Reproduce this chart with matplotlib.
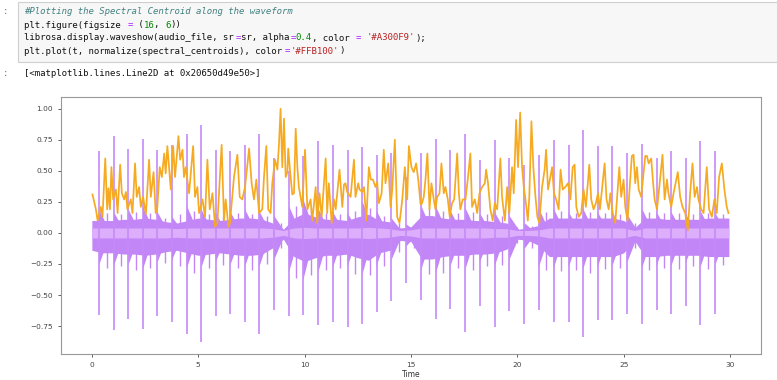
import numpy as np
import matplotlib
matplotlib.use("Agg")
import matplotlib.pyplot as plt
from matplotlib.patches import Rectangle

# ---------------- data ----------------
# percussive spikes of the waveform (time s, positive peak, negative peak, body tail up, body tail down)
spike_t = [0.34, 1.03, 1.72, 2.41, 3.08, 3.77, 4.46, 5.15, 5.82, 6.51, 7.20, 7.86, 8.56, 9.26,
           9.94, 10.64, 11.33, 12.02, 12.71, 13.38, 14.08, 14.78, 15.48, 16.18, 16.85, 17.56,
           18.23, 18.93, 19.62, 20.33, 21.00, 21.70, 22.41, 23.08, 23.77, 24.46, 25.16, 25.85,
           26.54, 27.23, 27.92, 28.60, 29.30]
spike_top = [0.66, 0.78, 0.68, 0.76, 0.67, 0.71, 0.80, 0.87, 0.67, 0.66, 0.71, 0.80, 0.60, 0.50,
             0.62, 0.74, 0.71, 0.67, 0.69, 0.63, 0.64, 0.45, 0.64, 0.76, 0.67, 0.80, 0.59, 0.75,
             0.60, 0.55, 0.63, 0.75, 0.71, 0.83, 0.70, 0.70, 0.64, 0.72, 0.60, 0.66, 0.60, 0.74,
             0.66]
spike_bot = [-0.66, -0.78, -0.69, -0.77, -0.67, -0.72, -0.81, -0.88, -0.67, -0.65, -0.72, -0.81,
             -0.62, -0.67, -0.66, -0.74, -0.72, -0.76, -0.73, -0.64, -0.55, -0.40, -0.54, -0.69,
             -0.61, -0.80, -0.59, -0.76, -0.63, -0.73, -0.62, -0.72, -0.72, -0.84, -0.70, -0.70,
             -0.65, -0.73, -0.62, -0.65, -0.59, -0.74, -0.65]
tail_up = [0.19, 0.17, 0.19, 0.21, 0.17, 0.13, 0.22, 0.19, 0.16, 0.17, 0.19, 0.18, 0.14, 0.22,
           0.27, 0.20, 0.17, 0.16, 0.26, 0.18, 0.12, 0.07, 0.22, 0.21, 0.18, 0.20, 0.16, 0.17,
           0.14, 0.08, 0.20, 0.20, 0.17, 0.20, 0.17, 0.17, 0.15, 0.20, 0.17, 0.17, 0.15, 0.18,
           0.16]
tail_dn = [-0.26, -0.27, -0.26, -0.29, -0.24, -0.22, -0.29, -0.28, -0.24, -0.26, -0.27, -0.28,
           -0.22, -0.32, -0.38, -0.32, -0.28, -0.27, -0.34, -0.27, -0.22, -0.11, -0.30, -0.32,
           -0.27, -0.29, -0.24, -0.27, -0.22, -0.13, -0.28, -0.29, -0.28, -0.30, -0.28, -0.27,
           -0.24, -0.29, -0.27, -0.27, -0.24, -0.28, -0.26]

# secondary (off-beat) streaks between the main hits
minor_t = [0.69, 1.38, 2.07, 2.75, 3.43, 4.12, 4.81, 5.49, 6.17, 6.86, 7.53, 8.21, 8.91, 9.60,
           10.29, 10.99, 11.68, 12.37, 13.05, 13.73, 14.43, 15.13, 15.83, 16.52, 17.21, 17.90,
           18.58, 19.28, 19.98, 20.67, 21.35, 22.06, 22.75, 23.43, 24.12, 24.81, 25.51, 26.20,
           26.89, 27.58, 28.26, 28.95, 29.65]
minor_up = [0.16, 0.15, 0.17, 0.16, 0.12, 0.15, 0.18, 0.15, 0.14, 0.16, 0.15, 0.14, 0.08, 0.22,
            0.20, 0.16, 0.15, 0.18, 0.20, 0.14, 0.08, 0.06, 0.20, 0.18, 0.16, 0.17, 0.15, 0.14,
            0.05, 0.06, 0.17, 0.18, 0.16, 0.17, 0.16, 0.15, 0.08, 0.17, 0.16, 0.16, 0.15, 0.16,
            0.15]
minor_dn = [-0.28, -0.27, -0.30, -0.28, -0.24, -0.27, -0.32, -0.28, -0.26, -0.28, -0.30, -0.25,
            -0.12, -0.36, -0.34, -0.30, -0.28, -0.33, -0.34, -0.27, -0.15, -0.12, -0.33, -0.32,
            -0.28, -0.30, -0.27, -0.26, -0.08, -0.12, -0.30, -0.31, -0.30, -0.32, -0.29, -0.28,
            -0.12, -0.30, -0.28, -0.29, -0.27, -0.29, -0.26]

# waveform body envelope sampled every 0.5 s
env_t = [0.0, 0.5, 1.0, 1.5, 2.0, 2.5, 3.0, 3.5, 4.0, 4.5, 5.0, 5.5, 6.0, 6.5, 7.0, 7.5, 8.0,
         8.5, 9.0, 9.5, 10.0, 10.5, 11.0, 11.5, 12.0, 12.5, 13.0, 13.5, 14.0, 14.5, 15.0, 15.5,
         16.0, 16.5, 17.0, 17.5, 18.0, 18.5, 19.0, 19.5, 20.0, 20.5, 21.0, 21.5, 22.0, 22.5,
         23.0, 23.5, 24.0, 24.5, 25.0, 25.5, 26.0, 26.5, 27.0, 27.5, 28.0, 28.5, 29.0, 29.5, 29.94]
env_up = [0.10, 0.10, 0.10, 0.11, 0.11, 0.12, 0.11, 0.09, 0.08, 0.10, 0.12, 0.11, 0.10, 0.11,
          0.12, 0.12, 0.11, 0.08, 0.03, 0.12, 0.16, 0.13, 0.11, 0.11, 0.10, 0.13, 0.15, 0.10,
          0.09, 0.04, 0.05, 0.14, 0.14, 0.12, 0.11, 0.11, 0.10, 0.10, 0.09, 0.08, 0.03, 0.04,
          0.06, 0.12, 0.12, 0.12, 0.12, 0.12, 0.12, 0.12, 0.10, 0.04, 0.12, 0.12, 0.11, 0.11,
          0.11, 0.11, 0.12, 0.12, 0.12]
env_dn = [-0.14, -0.16, -0.16, -0.17, -0.17, -0.18, -0.17, -0.15, -0.14, -0.16, -0.18, -0.17,
          -0.16, -0.17, -0.18, -0.18, -0.17, -0.12, -0.05, -0.19, -0.23, -0.20, -0.18, -0.18,
          -0.17, -0.20, -0.22, -0.16, -0.14, -0.06, -0.07, -0.21, -0.21, -0.19, -0.18, -0.18,
          -0.17, -0.17, -0.16, -0.13, -0.05, -0.06, -0.10, -0.19, -0.19, -0.19, -0.19, -0.19,
          -0.19, -0.19, -0.16, -0.06, -0.19, -0.19, -0.18, -0.18, -0.18, -0.18, -0.19, -0.19,
          -0.19]
env_core = [0.04, 0.04, 0.04, 0.04, 0.04, 0.04, 0.04, 0.04, 0.035, 0.04, 0.04, 0.04, 0.04, 0.04,
            0.04, 0.04, 0.04, 0.035, 0.02, 0.04, 0.045, 0.04, 0.04, 0.04, 0.04, 0.04, 0.045, 0.04,
            0.035, 0.02, 0.025, 0.04, 0.04, 0.04, 0.04, 0.04, 0.04, 0.04, 0.035, 0.035, 0.02, 0.02,
            0.025, 0.04, 0.04, 0.04, 0.04, 0.04, 0.04, 0.04, 0.04, 0.02, 0.04, 0.04, 0.04, 0.04,
            0.04, 0.04, 0.04, 0.04, 0.04]

# normalized spectral centroid (time s, value)
cent_t = [0.03, 0.19, 0.27, 0.42, 0.50, 0.63, 0.72, 0.78, 0.85, 0.92, 1.00, 1.13, 1.21, 1.33,
          1.41, 1.52, 1.60, 1.67, 1.83, 1.91, 2.03, 2.11, 2.22, 2.30, 2.41, 2.54, 2.69, 2.77,
          2.90, 3.00, 3.08, 3.19, 3.29, 3.40, 3.47, 3.55, 3.63, 3.71, 3.82, 3.91, 4.07, 4.15,
          4.26, 4.33, 4.41, 4.57, 4.76, 4.85, 4.96, 5.04, 5.20, 5.32, 5.43, 5.54, 5.67, 5.79,
          5.90, 6.10, 6.21, 6.29, 6.42, 6.49, 6.68, 6.84, 6.95, 7.07, 7.20,
          7.39, 7.51, 7.62, 7.73, 7.86, 8.01, 8.09, 8.20, 8.29, 8.40, 8.48, 8.61, 8.72, 8.79,
          8.87, 8.95, 9.03, 9.11, 9.19, 9.23, 9.31, 9.42, 9.50, 9.58, 9.66, 9.73, 9.81, 9.89,
          10.02, 10.13, 10.28, 10.36, 10.52, 10.59, 10.70, 10.80, 10.99, 11.06, 11.14, 11.27,
          11.38, 11.46, 11.64, 11.77, 11.85, 11.92, 12.00, 12.16, 12.32, 12.39, 12.52, 12.58,
          12.71, 12.79, 12.90, 13.02, 13.11, 13.21, 13.33, 13.41, 13.49, 13.62, 13.72, 13.80,
          13.93, 14.04, 14.12, 14.24, 14.35, 14.46, 14.59, 14.71, 14.82,
          14.90, 15.02, 15.13, 15.24, 15.34, 15.45, 15.52, 15.60, 15.68, 15.77, 15.87, 15.96,
          16.07, 16.15, 16.23, 16.34, 16.43, 16.54, 16.62, 16.73, 16.82, 16.93, 17.03, 17.17,
          17.25, 17.32, 17.43, 17.56, 17.68, 17.79, 17.87, 18.00, 18.11, 18.22, 18.34, 18.47,
          18.53, 18.62, 18.73, 18.84, 18.94, 19.05, 19.20, 19.28, 19.41, 19.52, 19.62, 19.75,
          19.83, 19.94, 20.03, 20.13, 20.22, 20.30, 20.38, 20.49, 20.56, 20.66, 20.75, 20.85,
          20.94, 21.03, 21.16, 21.28, 21.35, 21.44, 21.55, 21.63, 21.72, 21.82, 21.94, 22.03,
          22.13,
          22.25, 22.38, 22.49, 22.60, 22.69, 22.77, 22.88, 23.00, 23.11, 23.22, 23.38, 23.47,
          23.58, 23.69, 23.79, 23.88, 24.10, 24.19, 24.29, 24.37, 24.48, 24.60, 24.79, 24.88,
          24.99, 25.07, 25.18, 25.31, 25.38, 25.46, 25.54, 25.62, 25.70, 25.82, 25.93, 26.01,
          26.09, 26.17, 26.29, 26.38, 26.45, 26.56, 26.67, 26.82, 26.92, 27.03, 27.10, 27.23,
          27.34, 27.54, 27.65, 27.76, 27.89, 28.01, 28.12, 28.23, 28.33, 28.44, 28.51, 28.64,
          28.75, 28.90, 29.01, 29.14, 29.26, 29.37, 29.48, 29.61, 29.73, 29.84, 29.92]
cent_v = [0.31, 0.19, 0.10, 0.21, 0.13, 0.60, 0.19, 0.36, 0.19, 0.53, 0.27, 0.35, 0.16, 0.55,
          0.32, 0.27, 0.33, 0.19, 0.27, 0.16, 0.56, 0.29, 0.37, 0.21, 0.29, 0.15, 0.59, 0.29,
          0.49, 0.16, 0.21, 0.53, 0.45, 0.64, 0.48, 0.70, 0.53, 0.35, 0.70, 0.45, 0.78, 0.59,
          0.67, 0.45, 0.53, 0.32, 0.70, 0.29, 0.37, 0.16, 0.27, 0.13, 0.59, 0.19, 0.32, 0.05,
          0.08, 0.71, 0.10, 0.27, 0.05, 0.08, 0.45, 0.63, 0.29, 0.27, 0.37,
          0.68, 0.40, 0.27, 0.43, 0.16, 0.19, 0.45, 0.70, 0.19, 0.16, 0.40, 0.59, 0.51, 0.70,
          1.00, 0.53, 0.92, 0.45, 0.49, 0.68, 0.51, 0.31, 0.32, 0.84, 0.53, 0.37, 0.29, 0.21,
          0.67, 0.19, 0.27, 0.10, 0.37, 0.08, 0.32, 0.13, 0.60, 0.16, 0.40, 0.08,
          0.27, 0.19, 0.51, 0.21, 0.39, 0.40, 0.33, 0.29, 0.59, 0.29, 0.40, 0.35,
          0.33, 0.37, 0.10, 0.53, 0.43, 0.43, 0.37, 0.41, 0.24, 0.32, 0.67, 0.40,
          0.56, 0.21, 0.35, 0.75, 0.13, 0.08, 0.27, 0.53, 0.27,
          0.70, 0.53, 0.49, 0.56, 0.43, 0.23, 0.24, 0.29, 0.43, 0.64, 0.19, 0.40,
          0.27, 0.19, 0.29, 0.32, 0.56, 0.32, 0.37, 0.27, 0.13, 0.24, 0.27, 0.64,
          0.32, 0.19, 0.27, 0.27, 0.45, 0.64, 0.21, 0.27, 0.16, 0.32, 0.37, 0.40,
          0.51, 0.40, 0.19, 0.10, 0.24, 0.19, 0.60, 0.29, 0.10, 0.37, 0.16, 0.53,
          0.32, 0.91, 0.53, 0.97, 0.53, 0.37, 0.27, 0.10, 0.29, 0.90, 0.53, 0.29,
          0.13, 0.08, 0.37, 0.51, 0.67, 0.35, 0.45, 0.53, 0.32, 0.27, 0.19, 0.51,
          0.35,
          0.37, 0.40, 0.27, 0.53, 0.55, 0.21, 0.13, 0.16, 0.35, 0.21, 0.55, 0.27,
          0.19, 0.24, 0.32, 0.19, 0.56, 0.27, 0.19, 0.32, 0.16, 0.08, 0.53, 0.29,
          0.43, 0.21, 0.10, 0.45, 0.62, 0.63, 0.40, 0.53, 0.35, 0.29, 0.48, 0.62,
          0.62, 0.56, 0.60, 0.40, 0.27, 0.19, 0.37, 0.63, 0.27, 0.43, 0.32, 0.21,
          0.32, 0.49, 0.29, 0.21, 0.16, 0.02, 0.32, 0.56, 0.29, 0.37, 0.27, 0.19,
          0.16, 0.53, 0.19, 0.13, 0.27, 0.16, 0.45, 0.56, 0.35, 0.21, 0.16]

x_ticks = [0, 5, 10, 15, 20, 25, 30]
y_ticks = [-0.75, -0.50, -0.25, 0.00, 0.25, 0.50, 0.75, 1.00]

code_lines = [
    [("#Plotting the Spectral Centroid along the waveform", "#408080", "italic")],
    [("plt.figure(figsize ", "#111111", "normal"), ("=", "#AA22FF", "normal"), (" (", "#111111", "normal"),
     ("16", "#008800", "normal"), (", ", "#111111", "normal"), ("6", "#008800", "normal"),
     ("))", "#111111", "normal")],
    [("librosa.display.waveshow(audio_file, sr", "#111111", "normal"), ("=", "#AA22FF", "normal"),
     ("sr, alpha", "#111111", "normal"), ("=", "#AA22FF", "normal"), ("0.4", "#008800", "normal"),
     (", color ", "#111111", "normal"), ("=", "#AA22FF", "normal"), (" ", "#111111", "normal"),
     ("'#A300F9'", "#BA2121", "normal"), (");", "#111111", "normal")],
    [("plt.plot(t, normalize(spectral_centroids), color", "#111111", "normal"),
     ("=", "#AA22FF", "normal"), ("'#FFB100'", "#BA2121", "normal"), (")", "#111111", "normal")],
]
out_text = "[<matplotlib.lines.Line2D at 0x20650d49e50>]"

# ---------------- figure ----------------
W, H = 777, 380
fig = plt.figure(figsize=(W / 100, H / 100), dpi=100)
fig.patch.set_facecolor("white")

def fx(px):
    return px / W

def fy(py):
    return 1 - py / H

# code cell background
fig.patches.append(Rectangle((fx(18), fy(62)), fx(777 - 18) + 0.01, (62 - 2) / H,
                             transform=fig.transFigure, facecolor="#F7F7F7",
                             edgecolor="#CFCFCF", linewidth=0.8, zorder=0))

mono = "DejaVu Sans Mono"
fs_code = 6.5
char_w = fs_code * 100 / 72 * 0.602
line_y = [12, 25, 38, 51]
for ly, segs in zip(line_y, code_lines):
    x = 24.0
    for txt, col, sty in segs:
        fig.text(fx(x), fy(ly), txt, color=col, fontstyle=sty, family=mono,
                 fontsize=fs_code, va="center", ha="left")
        x += len(txt) * char_w
fig.text(fx(3), fy(12), ":", color="#777777", family=mono, fontsize=fs_code, va="center")
fig.text(fx(3), fy(74), ":", color="#777777", family=mono, fontsize=fs_code, va="center")
fig.text(fx(24), fy(74), out_text, color="#111111", family=mono, fontsize=fs_code,
         va="center", ha="left")

# plot axes
ax = fig.add_axes([fx(61), fy(354), fx(761) - fx(61), fy(97) - fy(354)])

outer_col = "#C386F7"
core_col = "#DCAEFB"
spike_col = "#C58AF8"

ax.fill_between(env_t, env_dn, env_up, color=outer_col, linewidth=0, zorder=1)
for t0, tu, td in zip(spike_t, tail_up, tail_dn):
    ax.fill([t0 - 0.02, t0, t0 + 0.55], [0, tu, 0], color=outer_col, linewidth=0, zorder=1)
    ax.fill([t0 - 0.02, t0, t0 + 0.55], [0, td, 0], color=outer_col, linewidth=0, zorder=1)
ax.vlines(minor_t, minor_dn, minor_up, color=outer_col, linewidth=1.0, zorder=1)
core_neg = [-c for c in env_core]
ax.fill_between(env_t, core_neg, env_core, color=core_col, linewidth=0, zorder=2)
ax.vlines(spike_t, spike_bot, spike_top, color=spike_col, linewidth=1.2, zorder=3)

ax.plot(cent_t, cent_v, color="#F6AA22", linewidth=1.25, zorder=4)

ax.set_xlim(-1.45, 31.45)
ax.set_ylim(-0.975, 1.095)
ax.set_xticks(x_ticks)
ax.set_xticklabels([str(v) for v in x_ticks])
ax.set_yticks(y_ticks)
ax.set_yticklabels([f"{v:.2f}".replace("-", "\u2212") for v in y_ticks])
ax.tick_params(labelsize=5.3, colors="#444444", length=2.5, width=0.6)
for s in ax.spines.values():
    s.set_color("#999999")
    s.set_linewidth(0.8)
ax.set_xlabel("Time", fontsize=5.5, color="#333333", labelpad=1.5)

fig.savefig("out.png", dpi=100, facecolor="white")
